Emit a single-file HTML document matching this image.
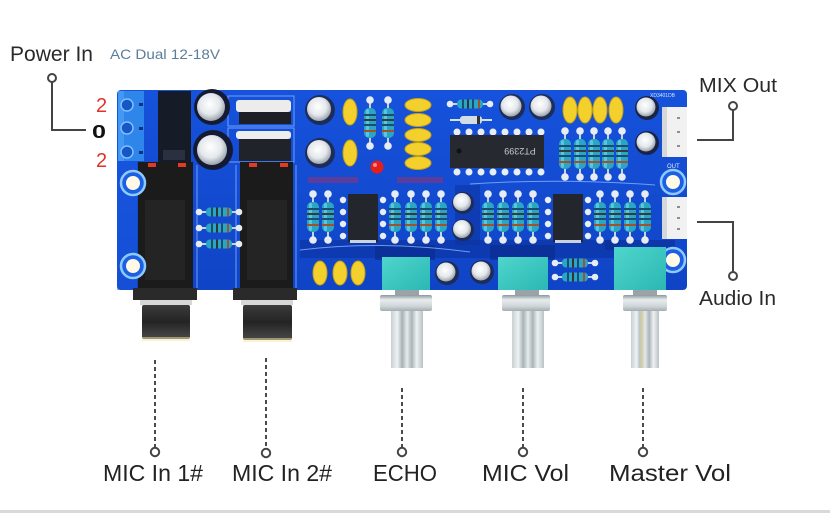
<!DOCTYPE html>
<html><head><meta charset="utf-8">
<style>
html,body{margin:0;padding:0;background:#fff;}
body{width:830px;height:513px;overflow:hidden;}
svg{display:block;}
text{font-family:"Liberation Sans",sans-serif;}
</style></head>
<body>
<svg width="830" height="513" viewBox="0 0 830 513" xmlns="http://www.w3.org/2000/svg">
<defs>
  <linearGradient id="board" x1="0" y1="0" x2="0" y2="1">
    <stop offset="0" stop-color="#1652dc"/>
    <stop offset="1" stop-color="#1044c6"/>
  </linearGradient>
  <linearGradient id="shaft" x1="0" y1="0" x2="1" y2="0">
    <stop offset="0" stop-color="#c9d0d3"/>
    <stop offset="0.2" stop-color="#eef2f3"/>
    <stop offset="0.35" stop-color="#a7b2b6"/>
    <stop offset="0.5" stop-color="#e6ebec"/>
    <stop offset="0.65" stop-color="#aab4b8"/>
    <stop offset="0.8" stop-color="#eef1f2"/>
    <stop offset="1" stop-color="#b9c2c5"/>
  </linearGradient>
  <linearGradient id="collar" x1="0" y1="0" x2="0" y2="1">
    <stop offset="0" stop-color="#8d979b"/>
    <stop offset="0.3" stop-color="#e8ecee"/>
    <stop offset="0.7" stop-color="#cfd6d8"/>
    <stop offset="1" stop-color="#a3adb1"/>
  </linearGradient>
  <linearGradient id="pot" x1="0" y1="0" x2="1" y2="1">
    <stop offset="0" stop-color="#4fd6cc"/>
    <stop offset="1" stop-color="#2bb7b4"/>
  </linearGradient>
  <linearGradient id="barrel" x1="0" y1="0" x2="0" y2="1">
    <stop offset="0" stop-color="#3a3a3a"/>
    <stop offset="0.5" stop-color="#242424"/>
    <stop offset="1" stop-color="#4a4a4a"/>
  </linearGradient>
  <radialGradient id="ecap" cx="0.45" cy="0.4" r="0.6">
    <stop offset="0" stop-color="#ffffff"/>
    <stop offset="0.6" stop-color="#e4e8ec"/>
    <stop offset="1" stop-color="#9aa3ab"/>
  </radialGradient>
  <g id="rv">
    <rect x="-1" y="0" width="2" height="46" fill="#c8d2dc"/>
    <circle cx="0" cy="0" r="3.8" fill="#e6ecf2"/>
    <circle cx="0" cy="46" r="3.8" fill="#e6ecf2"/>
    <rect x="-6" y="8" width="12" height="30" rx="5" fill="#2aa6c4"/>
    <rect x="-4" y="9" width="3" height="28" rx="1.5" fill="#6fd3e6" opacity="0.7"/>
    <rect x="-6" y="14" width="12" height="2" fill="#1a4d70"/>
    <rect x="-6" y="19" width="12" height="2" fill="#3a3a3a"/>
    <rect x="-6" y="24" width="12" height="2" fill="#1a4d70"/>
    <rect x="-6" y="30" width="12" height="2" fill="#a0522d"/>
  </g>
  <g id="rh">
    <rect x="0" y="-1" width="40" height="2" fill="#c8d2dc"/>
    <circle cx="0" cy="0" r="3.3" fill="#e6ecf2"/>
    <circle cx="40" cy="0" r="3.3" fill="#e6ecf2"/>
    <rect x="7" y="-4.5" width="26" height="9" rx="4" fill="#2aa6c4"/>
    <rect x="12" y="-4.5" width="2" height="9" fill="#1a4d70"/>
    <rect x="17" y="-4.5" width="2" height="9" fill="#333"/>
    <rect x="22" y="-4.5" width="2" height="9" fill="#1a4d70"/>
    <rect x="28" y="-4.5" width="2" height="9" fill="#a0522d"/>
  </g>
  <g id="hole">
    <circle cx="0" cy="0" r="12" fill="#1b5fe4" stroke="#8fcaff" stroke-width="2.5"/>
    <circle cx="0" cy="0" r="7" fill="#fff9e6"/>
  </g>
</defs>

<!-- ============ BOARD ============ -->
<rect x="117" y="90" width="570" height="200" rx="4" fill="url(#board)"/>
<rect x="300" y="240" width="320" height="18" fill="#0b2f9c" opacity="0.55"/>
<rect x="375" y="245" width="60" height="15" fill="#0a2a88" opacity="0.6"/>
<rect x="490" y="245" width="65" height="15" fill="#0a2a88" opacity="0.6"/>
<rect x="605" y="240" width="70" height="10" fill="#0a2a88" opacity="0.5"/>
<rect x="455" y="185" width="25" height="60" fill="#0c2f9a" opacity="0.5"/>
<rect x="117" y="160" width="20" height="130" fill="#1a5ae6" opacity="0.5"/>
<g stroke="#86b4ff" stroke-width="1" fill="none" opacity="0.8">
  <rect x="228" y="96" width="66" height="30"/>
  <rect x="228" y="128" width="66" height="34"/>
  <line x1="197" y1="165" x2="197" y2="288"/>
  <line x1="236" y1="165" x2="236" y2="288"/>
  <line x1="296" y1="165" x2="296" y2="288"/>
  <path d="M300 250 Q380 240 470 252"/>
  <path d="M470 184 Q560 178 655 185"/>
</g>

<!-- terminal block -->
<rect x="118" y="91" width="26" height="70" fill="#2f86ea"/>
<rect x="118" y="91" width="6" height="70" fill="#4aa0f5" opacity="0.7"/>
<g fill="#1756c6" stroke="#7fc0ff" stroke-width="1.5">
  <circle cx="127" cy="105" r="6"/>
  <circle cx="127" cy="128" r="6"/>
  <circle cx="127" cy="152" r="6"/>
</g>
<g fill="#0d2f80"><rect x="139" y="103" width="4" height="3"/><rect x="139" y="127" width="4" height="3"/><rect x="139" y="151" width="4" height="3"/></g>

<rect x="158" y="91" width="33" height="73" fill="#161b28"/>
<rect x="163" y="150" width="22" height="10" fill="#2a3040"/>

<circle cx="212" cy="107" r="18" fill="#141a34"/>
<circle cx="211" cy="107" r="14" fill="url(#ecap)"/>
<circle cx="213" cy="150" r="20" fill="#141a34"/>
<circle cx="212" cy="150" r="15" fill="url(#ecap)"/>

<rect x="236" y="100" width="55" height="12" rx="3" fill="#ececec"/>
<rect x="239" y="112" width="52" height="12" fill="#1c1f26"/>
<rect x="236" y="131" width="55" height="8" rx="3" fill="#eeeeee"/>
<rect x="239" y="139" width="52" height="22" fill="#20232a"/>

<!-- jacks -->
<rect x="138" y="162" width="55" height="130" fill="#1b1b1b"/>
<rect x="145" y="200" width="40" height="80" fill="#242424"/>
<rect x="148" y="163" width="8" height="4" fill="#e23a24"/>
<rect x="178" y="163" width="8" height="4" fill="#e23a24"/>
<rect x="240" y="162" width="53" height="130" fill="#1b1b1b"/>
<rect x="247" y="200" width="40" height="80" fill="#242424"/>
<rect x="249" y="163" width="8" height="4" fill="#e23a24"/>
<rect x="280" y="163" width="8" height="4" fill="#e23a24"/>

<rect x="133" y="288" width="64" height="12" fill="#2a2a2a"/>
<rect x="140" y="300" width="52" height="5" fill="#d6d6d6"/>
<rect x="142" y="305" width="48" height="34" rx="2" fill="url(#barrel)"/>
<rect x="142" y="337" width="48" height="4" fill="#f3e6a8" opacity="0.5"/>
<rect x="233" y="288" width="64" height="12" fill="#2a2a2a"/>
<rect x="241" y="300" width="52" height="5" fill="#d6d6d6"/>
<rect x="243" y="305" width="49" height="35" rx="2" fill="url(#barrel)"/>
<rect x="243" y="338" width="49" height="4" fill="#f3e6a8" opacity="0.5"/>

<use href="#rh" x="199" y="212"/>
<use href="#rh" x="199" y="228"/>
<use href="#rh" x="199" y="244"/>

<use href="#hole" x="133" y="183"/>
<use href="#hole" x="133" y="266"/>
<use href="#hole" x="673" y="182"/>
<use href="#hole" x="673" y="260"/>

<g>
  <circle cx="320" cy="110" r="15" fill="#1e2c58"/><circle cx="319" cy="109" r="12" fill="url(#ecap)"/>
  <circle cx="320" cy="153" r="15" fill="#1e2c58"/><circle cx="319" cy="152" r="12" fill="url(#ecap)"/>
  <circle cx="512" cy="107" r="13" fill="#1e2c58"/><circle cx="511" cy="106" r="10.5" fill="url(#ecap)"/>
  <circle cx="542" cy="107" r="13" fill="#1e2c58"/><circle cx="541" cy="106" r="10.5" fill="url(#ecap)"/>
  <circle cx="647" cy="108" r="12" fill="#1a2446"/><circle cx="646" cy="107" r="9.5" fill="url(#ecap)"/>
  <circle cx="647" cy="143" r="12" fill="#1a2446"/><circle cx="646" cy="142" r="9.5" fill="url(#ecap)"/>
  <circle cx="463" cy="203" r="11" fill="#1e2c58"/><circle cx="462" cy="202" r="9" fill="url(#ecap)"/>
  <circle cx="463" cy="230" r="11" fill="#1e2c58"/><circle cx="462" cy="229" r="9" fill="url(#ecap)"/>
  <circle cx="447" cy="273" r="12" fill="#1e2c58"/><circle cx="446" cy="272" r="9.5" fill="url(#ecap)"/>
  <circle cx="482" cy="272" r="12" fill="#1e2c58"/><circle cx="481" cy="271" r="9.5" fill="url(#ecap)"/>
</g>

<g fill="#f3d02c" stroke="#c9a20f" stroke-width="1">
  <ellipse cx="350" cy="112" rx="7" ry="13"/>
  <ellipse cx="350" cy="153" rx="7" ry="13"/>
  <ellipse cx="570" cy="110" rx="7" ry="13"/>
  <ellipse cx="585" cy="110" rx="7" ry="13"/>
  <ellipse cx="600" cy="110" rx="7" ry="13"/>
  <ellipse cx="616" cy="110" rx="7" ry="13"/>
  <ellipse cx="320" cy="273" rx="7" ry="12"/>
  <ellipse cx="340" cy="273" rx="7" ry="12"/>
  <ellipse cx="358" cy="273" rx="7" ry="12"/>
  <ellipse cx="418" cy="105" rx="13" ry="6.5"/>
  <ellipse cx="418" cy="120" rx="13" ry="6.5"/>
  <ellipse cx="418" cy="135" rx="13" ry="6.5"/>
  <ellipse cx="418" cy="149" rx="13" ry="6.5"/>
  <ellipse cx="418" cy="163" rx="13" ry="6.5"/>
</g>

<use href="#rv" x="370" y="100"/>
<use href="#rv" x="388" y="100"/>
<use href="#rv" x="565" y="131"/>
<use href="#rv" x="580" y="131"/>
<use href="#rv" x="594" y="131"/>
<use href="#rv" x="608" y="131"/>
<use href="#rv" x="622" y="131"/>
<use href="#rv" x="313" y="194"/>
<use href="#rv" x="328" y="194"/>
<use href="#rv" x="395" y="194"/>
<use href="#rv" x="411" y="194"/>
<use href="#rv" x="426" y="194"/>
<use href="#rv" x="441" y="194"/>
<use href="#rv" x="488" y="194"/>
<use href="#rv" x="503" y="194"/>
<use href="#rv" x="518" y="194"/>
<use href="#rv" x="533" y="194"/>
<use href="#rv" x="600" y="194"/>
<use href="#rv" x="615" y="194"/>
<use href="#rv" x="630" y="194"/>
<use href="#rv" x="645" y="194"/>

<use href="#rh" x="450" y="104"/>
<rect x="450" y="119" width="42" height="2" fill="#d8e0e8"/>
<rect x="460" y="116" width="22" height="8" rx="3" fill="#d2dde6"/>
<rect x="477" y="116" width="3" height="8" fill="#333"/>
<use href="#rh" x="555" y="263"/>
<use href="#rh" x="555" y="277"/>

<g fill="#e8eef4">
  <circle cx="457" cy="132" r="3.5"/><circle cx="469" cy="132" r="3.5"/><circle cx="481" cy="132" r="3.5"/><circle cx="493" cy="132" r="3.5"/>
  <circle cx="505" cy="132" r="3.5"/><circle cx="517" cy="132" r="3.5"/><circle cx="529" cy="132" r="3.5"/><circle cx="541" cy="132" r="3.5"/>
  <circle cx="457" cy="172" r="3.5"/><circle cx="469" cy="172" r="3.5"/><circle cx="481" cy="172" r="3.5"/><circle cx="493" cy="172" r="3.5"/>
  <circle cx="505" cy="172" r="3.5"/><circle cx="517" cy="172" r="3.5"/><circle cx="529" cy="172" r="3.5"/><circle cx="541" cy="172" r="3.5"/>
</g>
<rect x="450" y="135" width="94" height="33" fill="#262a30"/>
<circle cx="459" cy="151" r="2.5" fill="#111"/>
<text x="0" y="0" transform="translate(520,148) rotate(180)" font-size="9" fill="#c8ccd0" text-anchor="middle">PT2399</text>

<g fill="#e8eef4">
  <circle cx="343" cy="200" r="3.2"/><circle cx="343" cy="212" r="3.2"/><circle cx="343" cy="224" r="3.2"/><circle cx="343" cy="236" r="3.2"/>
  <circle cx="383" cy="200" r="3.2"/><circle cx="383" cy="212" r="3.2"/><circle cx="383" cy="224" r="3.2"/><circle cx="383" cy="236" r="3.2"/>
  <circle cx="548" cy="200" r="3.2"/><circle cx="548" cy="212" r="3.2"/><circle cx="548" cy="224" r="3.2"/><circle cx="548" cy="236" r="3.2"/>
  <circle cx="588" cy="200" r="3.2"/><circle cx="588" cy="212" r="3.2"/><circle cx="588" cy="224" r="3.2"/><circle cx="588" cy="236" r="3.2"/>
</g>
<rect x="348" y="194" width="30" height="48" fill="#23272d"/>
<rect x="553" y="194" width="30" height="48" fill="#23272d"/>
<rect x="350" y="240" width="26" height="3" fill="#c9d4e0"/>
<rect x="555" y="240" width="26" height="3" fill="#c9d4e0"/>

<circle cx="377" cy="167" r="6.5" fill="#e41e1a"/>
<circle cx="375" cy="165" r="2" fill="#ff8a80"/>
<rect x="308" y="177" width="50" height="6" fill="#5b3d9e"/>
<rect x="397" y="177" width="46" height="6" fill="#5b3d9e"/>

<rect x="662" y="107" width="25" height="50" fill="#f1f1f1"/>
<rect x="662" y="107" width="5" height="50" fill="#d5d8da"/>
<rect x="662" y="197" width="25" height="42" fill="#f1f1f1"/>
<rect x="662" y="197" width="5" height="42" fill="#d5d8da"/>
<g fill="#8a8f94"><rect x="677" y="117" width="3" height="2"/><rect x="677" y="131" width="3" height="2"/><rect x="677" y="145" width="3" height="2"/>
<rect x="677" y="206" width="3" height="2"/><rect x="677" y="217" width="3" height="2"/><rect x="677" y="228" width="3" height="2"/></g>
<text x="667" y="168" font-size="6" fill="#e6f0ff">OUT</text>
<text x="650" y="97" font-size="5" fill="#d8e6ff">XD3401DB</text>

<rect x="382" y="257" width="48" height="33" fill="url(#pot)"/>
<rect x="498" y="257" width="50" height="33" fill="url(#pot)"/>
<rect x="614" y="247" width="52" height="43" fill="url(#pot)"/>
<rect x="395" y="290" width="24" height="6" fill="#9aa3a7"/>
<rect x="515" y="290" width="24" height="6" fill="#9aa3a7"/>
<rect x="633" y="290" width="24" height="6" fill="#9aa3a7"/>
<rect x="380" y="295" width="52" height="16" rx="2" fill="url(#collar)"/>
<rect x="502" y="295" width="48" height="16" rx="2" fill="url(#collar)"/>
<rect x="623" y="295" width="44" height="16" rx="2" fill="url(#collar)"/>
<rect x="391" y="311" width="32" height="57" fill="url(#shaft)"/>
<rect x="512" y="311" width="32" height="57" fill="url(#shaft)"/>
<rect x="631" y="311" width="28" height="57" fill="url(#shaft)"/>
<rect x="640" y="311" width="4" height="57" fill="#e9dca0" opacity="0.5"/>

<!-- ============ ANNOTATIONS ============ -->
<g stroke="#444" stroke-width="2" fill="none">
  <path d="M52 82 V130 H86"/>
  <path d="M733 110 V140 H697"/>
  <path d="M697 222 H733 V272"/>
</g>
<g stroke="#444" stroke-width="2" fill="#fff">
  <circle cx="52" cy="78" r="4"/>
  <circle cx="733" cy="106" r="4"/>
  <circle cx="733" cy="276" r="4"/>
</g>
<g stroke="#4a4a4a" stroke-width="2" stroke-dasharray="4 3" fill="none">
  <line x1="155" y1="360" x2="155" y2="447"/>
  <line x1="266" y1="358" x2="266" y2="447"/>
  <line x1="402" y1="388" x2="402" y2="447"/>
  <line x1="523" y1="388" x2="523" y2="447"/>
  <line x1="643" y1="388" x2="643" y2="447"/>
</g>
<g stroke="#444" stroke-width="2" fill="#fff">
  <circle cx="155" cy="452" r="4.2"/>
  <circle cx="266" cy="453" r="4.2"/>
  <circle cx="402" cy="452" r="4.2"/>
  <circle cx="523" cy="452" r="4.2"/>
  <circle cx="643" cy="452" r="4.2"/>
</g>

<text x="10" y="61" font-size="21" fill="#2a2a2a" textLength="83" lengthAdjust="spacingAndGlyphs">Power In</text>
<text x="110" y="59" font-size="14" fill="#5b7d99" textLength="110" lengthAdjust="spacingAndGlyphs">AC  Dual 12-18V</text>
<text x="96" y="112" font-size="20" fill="#e0332a">2</text>
<text x="96" y="167" font-size="20" fill="#e0332a">2</text>
<text x="92" y="138" font-size="18" font-weight="bold" fill="#111" textLength="14" lengthAdjust="spacingAndGlyphs">0</text>

<text x="699" y="92" font-size="20" fill="#2a2a2a" textLength="78" lengthAdjust="spacingAndGlyphs">MIX  Out</text>
<text x="699" y="305" font-size="20" fill="#2a2a2a" textLength="77" lengthAdjust="spacingAndGlyphs">Audio In</text>

<g font-size="23" fill="#222">
  <text x="103" y="481" textLength="100" lengthAdjust="spacingAndGlyphs">MIC In 1#</text>
  <text x="232" y="481" textLength="100" lengthAdjust="spacingAndGlyphs">MIC In 2#</text>
  <text x="373" y="481" textLength="64" lengthAdjust="spacingAndGlyphs">ECHO</text>
  <text x="482" y="481" textLength="87" lengthAdjust="spacingAndGlyphs">MIC  Vol</text>
  <text x="609" y="481" textLength="122" lengthAdjust="spacingAndGlyphs">Master  Vol</text>
</g>

<rect x="0" y="510" width="830" height="3" fill="#d9d9d9"/>
</svg>
</body></html>
